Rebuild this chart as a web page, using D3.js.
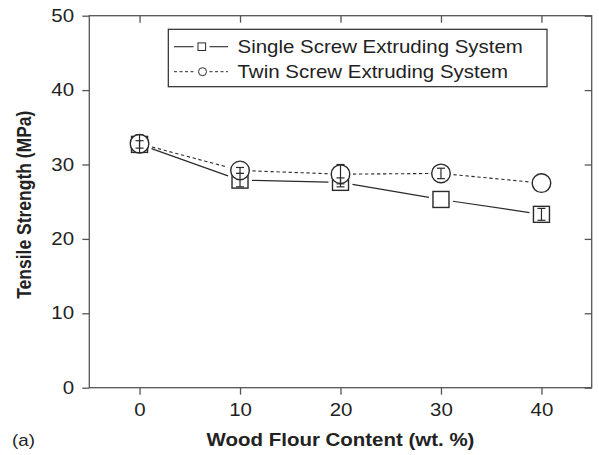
<!DOCTYPE html>
<html>
<head>
<meta charset="utf-8">
<script src="https://cdn.jsdelivr.net/npm/d3@7"></script>
<style>
  body { margin: 0; background: #fff; }
  text { font-family: "Liberation Sans", Arial, sans-serif; fill: #222; }
</style>
</head>
<body>
<script>
// data
var content = [0, 10, 20, 30, 40];
var singleScrew = [32.7, 27.9, 27.6, 25.3, 23.3];
var singleErr = [0.5, 0.9, 0.6, 0, 0.8];
var twinScrew = [32.8, 29.2, 28.7, 28.8, 27.5];
var twinErr = [1.2, 0.4, 1.3, 0.7, 0];
var xTicks = [0, 10, 20, 30, 40];
var yTicks = [0, 10, 20, 30, 40, 50];
var legendLabels = ["Single Screw Extruding System", "Twin Screw Extruding System"];

var w = 599, h = 455;
// plot box edges ("top" is taken on window, so other names)
var plotL = 89.3, plotR = 591.7, plotT = 15.7, plotB = 387.7;
var ink = "#2a2a2a";
var stretch = 1.17; // the source figure is a bit wide, text looks stretched

var svg = d3.select("body").append("svg")
  .attr("width", w)
  .attr("height", h);

var x = d3.scaleLinear().domain([-5, 45]).range([plotL, plotR]);
var y = d3.scaleLinear().domain([0, 50]).range([plotB, plotT]);

// frame
svg.append("rect")
  .attr("x", plotL).attr("y", plotT)
  .attr("width", plotR - plotL).attr("height", plotB - plotT)
  .attr("fill", "none").attr("stroke", "#555").attr("stroke-width", 1.3);

// bottom axis (ticks outward)
var xAxis = svg.append("g")
  .attr("transform", "translate(0," + plotB + ")")
  .call(d3.axisBottom(x).tickValues(xTicks).tickSize(7).tickPadding(9));
// left axis
var yAxis = svg.append("g")
  .attr("transform", "translate(" + plotL + ",0)")
  .call(d3.axisLeft(y).tickValues(yTicks).tickSize(7).tickPadding(6));
// top and right ticks point inward
var topAxis = svg.append("g")
  .attr("transform", "translate(0," + plotT + ")")
  .call(d3.axisTop(x).tickValues(xTicks).tickSize(-7).tickFormat(""));
var rightAxis = svg.append("g")
  .attr("transform", "translate(" + plotR + ",0)")
  .call(d3.axisRight(y).tickValues(yTicks).tickSize(-7).tickFormat(""));

[xAxis, yAxis, topAxis, rightAxis].forEach(function(g) {
  g.select(".domain").remove();
  g.selectAll("line").attr("stroke", "#555").attr("stroke-width", 1.3);
  g.selectAll("text")
    .attr("font-family", "Liberation Sans, Arial, sans-serif")
    .attr("font-size", "17.5px")
    .attr("fill", "#222")
    .attr("transform", "scale(" + stretch + ",1)");
});

// series lines, cut short of the markers like the original
function gapSegments(pts, cut) {
  var segs = [];
  for (var i = 0; i < pts.length - 1; i++) {
    var x1 = x(pts[i][0]), y1 = y(pts[i][1]);
    var x2 = x(pts[i + 1][0]), y2 = y(pts[i + 1][1]);
    var dx = x2 - x1, dy = y2 - y1;
    var t = cut / Math.abs(dx);
    segs.push([[x1 + dx * t, y1 + dy * t], [x2 - dx * t, y2 - dy * t]]);
  }
  return segs;
}

var twinPts = content.map(function(c, i) { return [c, twinScrew[i]]; });
var singlePts = content.map(function(c, i) { return [c, singleScrew[i]]; });

svg.append("g").selectAll("line")
  .data(gapSegments(twinPts, 12.5))
  .enter().append("line")
  .attr("x1", function(d) { return d[0][0]; })
  .attr("y1", function(d) { return d[0][1]; })
  .attr("x2", function(d) { return d[1][0]; })
  .attr("y2", function(d) { return d[1][1]; })
  .attr("stroke", ink).attr("stroke-width", 1.1).attr("stroke-dasharray", "3.3,2.7");

svg.append("g").selectAll("line")
  .data(gapSegments(singlePts, 12))
  .enter().append("line")
  .attr("x1", function(d) { return d[0][0]; })
  .attr("y1", function(d) { return d[0][1]; })
  .attr("x2", function(d) { return d[1][0]; })
  .attr("y2", function(d) { return d[1][1]; })
  .attr("stroke", ink).attr("stroke-width", 1.2);

var sq = 16, rad = 9.3;

svg.selectAll("rect.single")
  .data(singlePts)
  .enter().append("rect")
  .attr("class", "single")
  .attr("x", function(d) { return x(d[0]) - sq / 2; })
  .attr("y", function(d) { return y(d[1]) - sq / 2; })
  .attr("width", sq).attr("height", sq)
  .attr("fill", "#fff").attr("stroke", ink).attr("stroke-width", 1.4);

svg.selectAll("circle.twin")
  .data(twinPts)
  .enter().append("circle")
  .attr("class", "twin")
  .attr("cx", function(d) { return x(d[0]); })
  .attr("cy", function(d) { return y(d[1]); })
  .attr("r", rad)
  .attr("fill", "#fff").attr("stroke", ink).attr("stroke-width", 1.4);

// error bars
function errBars(vals, errs) {
  var g = svg.append("g").attr("stroke", ink).attr("stroke-width", 1.2);
  content.forEach(function(c, i) {
    if (!errs[i]) return;
    var cx = x(c), hi = y(vals[i] + errs[i]), lo = y(vals[i] - errs[i]);
    g.append("line").attr("x1", cx).attr("x2", cx).attr("y1", hi).attr("y2", lo);
    g.append("line").attr("x1", cx - 4).attr("x2", cx + 4).attr("y1", hi).attr("y2", hi);
    g.append("line").attr("x1", cx - 4).attr("x2", cx + 4).attr("y1", lo).attr("y2", lo);
  });
}
errBars(singleScrew, singleErr);
errBars(twinScrew, twinErr);

// legend
var lg = svg.append("g");
lg.append("rect")
  .attr("x", 168.3).attr("y", 29.3)
  .attr("width", 547 - 168.3).attr("height", 86.7 - 29.3)
  .attr("fill", "#fff").attr("stroke", ink).attr("stroke-width", 1.2);

var rows = [46.7, 71.7];
[[174, 193.5], [209.5, 228]].forEach(function(s) {
  lg.append("line").attr("x1", s[0]).attr("x2", s[1]).attr("y1", rows[0]).attr("y2", rows[0])
    .attr("stroke", ink).attr("stroke-width", 1.1);
  lg.append("line").attr("x1", s[0]).attr("x2", s[1]).attr("y1", rows[1]).attr("y2", rows[1])
    .attr("stroke", ink).attr("stroke-width", 1).attr("stroke-dasharray", "3,2.5");
});
lg.append("rect").attr("x", 198).attr("y", rows[0] - 3.8).attr("width", 7.6).attr("height", 7.6)
  .attr("fill", "#fff").attr("stroke", ink).attr("stroke-width", 1);
lg.append("circle").attr("cx", 202.5).attr("cy", rows[1]).attr("r", 4)
  .attr("fill", "#fff").attr("stroke", ink).attr("stroke-width", 1);

lg.selectAll("text.leg")
  .data(legendLabels)
  .enter().append("text")
  .attr("class", "leg")
  .attr("transform", function(d, i) {
    return "translate(237.5," + (rows[i] + 6.3) + ") scale(" + stretch + ",1)";
  })
  .attr("font-size", "17.5px")
  .text(function(d) { return d; });

// axis titles
svg.append("text")
  .attr("transform", "translate(" + ((plotL + plotR) / 2) + ",446) scale(" + stretch + ",1)")
  .attr("text-anchor", "middle")
  .attr("font-size", "17.5px").attr("font-weight", "bold")
  .text("Wood Flour Content (wt. %)");

svg.append("text")
  .attr("transform", "translate(31," + ((plotT + plotB) / 2 + 3) + ") scale(" + stretch + ",1) rotate(-90)")
  .attr("text-anchor", "middle")
  .attr("font-size", "17.5px").attr("font-weight", "bold")
  .text("Tensile Strength (MPa)");

svg.append("text")
  .attr("transform", "translate(12,446) scale(" + stretch + ",1)")
  .attr("font-family", "Liberation Serif, Times New Roman, serif")
  .attr("font-size", "16px")
  .text("(a)");
</script>
</body>
</html>
